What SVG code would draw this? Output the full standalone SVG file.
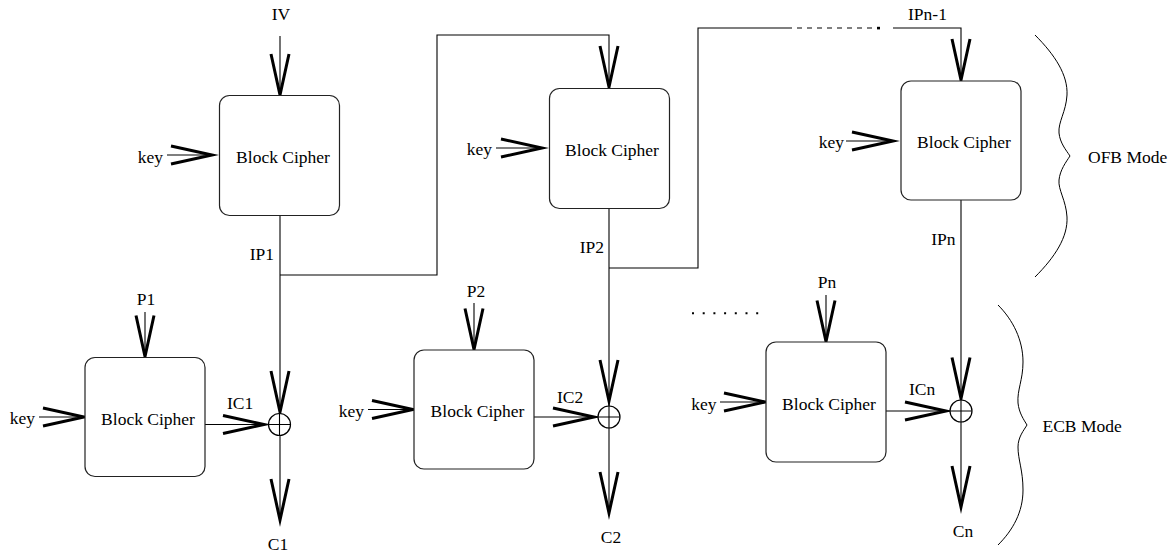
<svg xmlns="http://www.w3.org/2000/svg" width="1175" height="557" viewBox="0 0 1175 557">
  <style>
    text { font-family: "Liberation Serif", "Times New Roman", serif; font-size: 17.5px; fill: #000; }
    .mid { text-anchor: middle; }
    .end { text-anchor: end; }
    .box { fill: #fff; stroke: #222; stroke-width: 1.2; }
    .wire { fill: none; stroke: #000; stroke-width: 1.1; }
    .dash { fill: none; stroke: #000; stroke-width: 1.1; stroke-dasharray: 5 5; }
    .head { fill: none; stroke: #000; stroke-width: 3; stroke-linejoin: miter; stroke-miterlimit: 10; }
    .xor { fill: #fff; stroke: #000; stroke-width: 1.2; }
    .brace { fill: none; stroke: #000; stroke-width: 1; }
  </style>
  <defs>
    <!-- open V arrowhead, tip at the origin, pointing down -->
    <path id="ah" class="head" d="M-9,-41 L0,0 L9,-41"/>
    <!-- XOR symbol centred at the origin -->
    <g id="xor">
      <circle class="xor" r="11"/>
      <path class="wire" d="M-11,0 H11 M0,-11 V11"/>
    </g>
  </defs>

  <rect width="1175" height="557" fill="#fff"/>

  <!-- wires and arrows -->
  <g id="connectors">
    <!-- OFB chain -->
    <path class="wire" d="M280,36 V96"/>
    <path class="wire" d="M167,155 H212"/>
    <path class="wire" d="M280,215 V413"/>
    <path class="wire" d="M280,275 H437 V35 H609 V88"/>
    <path class="wire" d="M496,148 H542"/>
    <path class="wire" d="M609,208 V406"/>
    <path class="wire" d="M609,268 H698 V28 H787"/>
    <path class="dash" d="M787,28 H876"/>
    <rect x="877" y="26.8" width="3" height="2.6" fill="#000"/>
    <path class="wire" d="M893,28 H961 V81"/>
    <path class="wire" d="M846,141 H893"/>
    <path class="wire" d="M961,200 V400"/>

    <use href="#ah" transform="translate(280,95)"/>
    <use href="#ah" transform="translate(212,155) rotate(-90)"/>
    <use href="#ah" transform="translate(609,87)"/>
    <use href="#ah" transform="translate(542,148) rotate(-90)"/>
    <use href="#ah" transform="translate(961,80)"/>
    <use href="#ah" transform="translate(893,141) rotate(-90)"/>

    <!-- ECB row -->
    <path class="wire" d="M145,312 V357"/>
    <path class="wire" d="M39,417 H84"/>
    <path class="wire" d="M205,424.5 H268"/>
    <path class="wire" d="M280,435.5 V520"/>
    <use href="#ah" transform="translate(145,356.5)"/>
    <use href="#ah" transform="translate(84,417) rotate(-90)"/>
    <use href="#ah" transform="translate(264,424.5) rotate(-90)"/>
    <use href="#ah" transform="translate(280,412)"/>
    <use href="#ah" transform="translate(280,520)"/>

    <path class="wire" d="M474,303 V350"/>
    <path class="wire" d="M368,409.5 H413"/>
    <path class="wire" d="M534,417 H598"/>
    <path class="wire" d="M609,428 V513"/>
    <use href="#ah" transform="translate(474,349.5)"/>
    <use href="#ah" transform="translate(413,409.5) rotate(-90)"/>
    <use href="#ah" transform="translate(594,417) rotate(-90)"/>
    <use href="#ah" transform="translate(609,401)"/>
    <use href="#ah" transform="translate(609,513)"/>

    <path class="wire" d="M826,295 V342"/>
    <path class="wire" d="M720,402 H765"/>
    <path class="wire" d="M886,411 H950"/>
    <path class="wire" d="M961,422 V507"/>
    <use href="#ah" transform="translate(826,341.5)"/>
    <use href="#ah" transform="translate(765,402) rotate(-90)"/>
    <use href="#ah" transform="translate(946,411) rotate(-90)"/>
    <use href="#ah" transform="translate(961,398.5)"/>
    <use href="#ah" transform="translate(961,507)"/>

    <!-- ellipsis between the second and last ECB stages -->
    <path d="M692,313.3 H759" stroke="#000" stroke-width="2" stroke-dasharray="2 8.7"/>
  </g>

  <!-- OFB stage 1 -->
  <g id="ofb1">
    <rect class="box" x="219.5" y="95.5" width="120" height="120" rx="10"/>
    <text class="mid" x="283" y="163">Block Cipher</text>
    <text class="end" x="163" y="163">key</text>
    <text class="mid" x="281" y="20">IV</text>
    <text class="end" x="274" y="260">IP1</text>
  </g>

  <!-- OFB stage 2 -->
  <g id="ofb2">
    <rect class="box" x="549.5" y="88.5" width="120" height="120" rx="10"/>
    <text class="mid" x="612" y="156">Block Cipher</text>
    <text class="end" x="492" y="155">key</text>
    <text class="end" x="604" y="253">IP2</text>
  </g>

  <!-- OFB stage n -->
  <g id="ofbn">
    <rect class="box" x="901" y="81" width="120" height="119" rx="10"/>
    <text class="mid" x="964" y="148">Block Cipher</text>
    <text class="end" x="844" y="148">key</text>
    <text class="mid" x="927.5" y="20">IPn-1</text>
    <text class="end" x="955.5" y="245">IPn</text>
  </g>

  <!-- ECB stage 1 -->
  <g id="ecb1">
    <rect class="box" x="85" y="357.5" width="120" height="119" rx="10"/>
    <text class="mid" x="148" y="425">Block Cipher</text>
    <text class="end" x="35" y="424">key</text>
    <text class="mid" x="146" y="305">P1</text>
    <text class="mid" x="240" y="409">IC1</text>
    <use href="#xor" transform="translate(279.5,424.5)"/>
    <text class="mid" x="278" y="550">C1</text>
  </g>

  <!-- ECB stage 2 -->
  <g id="ecb2">
    <rect class="box" x="414" y="350" width="120" height="119" rx="10"/>
    <text class="mid" x="477.5" y="417">Block Cipher</text>
    <text class="end" x="364" y="417">key</text>
    <text class="mid" x="476" y="297">P2</text>
    <text class="mid" x="570" y="403">IC2</text>
    <use href="#xor" transform="translate(609,417)"/>
    <text class="mid" x="611" y="543">C2</text>
  </g>

  <!-- ECB stage n -->
  <g id="ecbn">
    <rect class="box" x="766" y="342" width="120" height="120" rx="10"/>
    <text class="mid" x="829" y="410">Block Cipher</text>
    <text class="end" x="716.5" y="410">key</text>
    <text class="mid" x="827" y="288">Pn</text>
    <text class="mid" x="922" y="395">ICn</text>
    <use href="#xor" transform="translate(961,411)"/>
    <text class="mid" x="963" y="537">Cn</text>
  </g>

  <!-- mode braces -->
  <g id="ofb-mode">
    <path class="brace" d="M1035,35 C1055,55 1068,75 1067,95 C1066,112 1058,122 1059,133 C1060,143 1066,150 1070,156 C1066,162 1060,170 1059,180 C1058,190 1066,200 1067,217 C1068,237 1055,257 1035,277"/>
    <text x="1088" y="163">OFB Mode</text>
  </g>
  <g id="ecb-mode">
    <path class="brace" d="M998,305 C1013,320 1023,340 1023,362 C1023,380 1017,390 1018,403 C1019,413 1024,420 1027,425 C1024,430 1018,437 1018,447 C1018,460 1023,470 1023,490 C1023,512 1013,530 998,545"/>
    <text x="1042.5" y="432">ECB Mode</text>
  </g>
</svg>
